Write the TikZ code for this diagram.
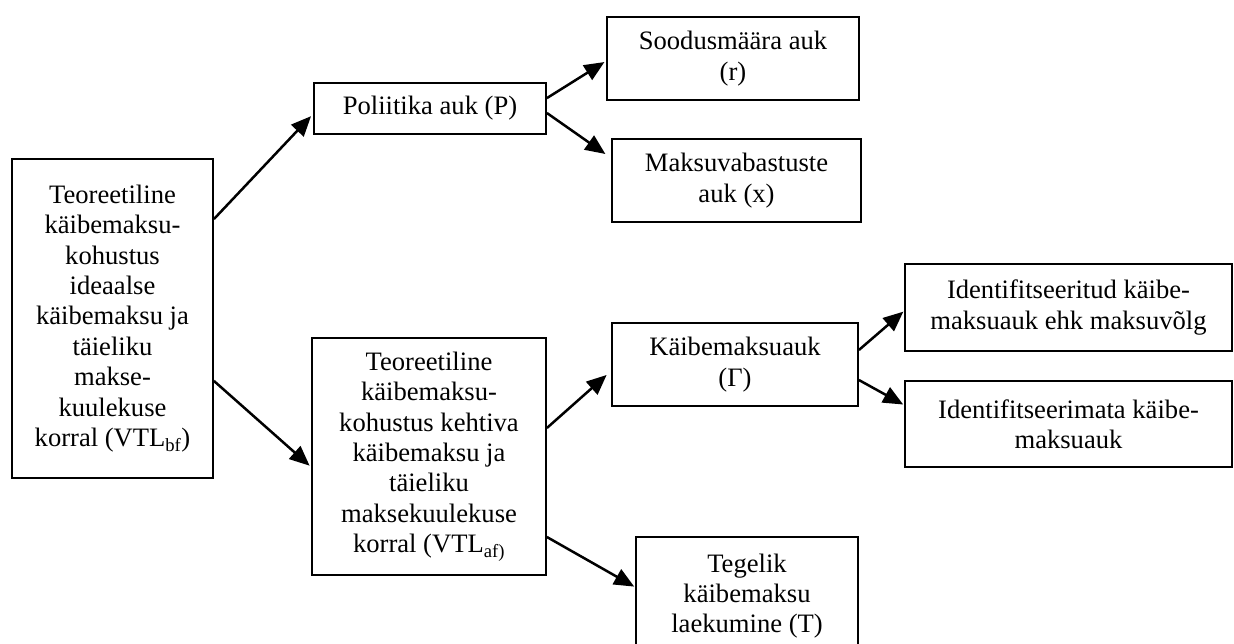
\documentclass[tikz,border=0pt]{standalone}
\usepackage{fontspec}
\setmainfont{Liberation Serif}
\usetikzlibrary{arrows.meta}
\begin{document}
\begin{tikzpicture}[x=1pt,y=-1pt,
  box/.style={draw=black, line width=1.8pt, inner sep=0pt, align=center,
    font=\fontsize{26.6}{30.4}\selectfont},
  conn/.style={line width=2.5pt, -{Triangle[length=20pt,width=17pt]}}]
\useasboundingbox[fill=white] (0,0) rectangle (1234,643);
\node[box, minimum width=201pt, minimum height=319pt] (L) at (112.5,318.5)
  {Teoreetiline\\käibemaksu-\\kohustus\\ideaalse\\käibemaksu ja\\täieliku\\makse-\\kuulekuse\\korral (VTL\textsubscript{bf})};
\node[box, minimum width=232pt, minimum height=51pt] (P) at (430,108.5)
  {Poliitika auk (P)};
\node[box, minimum width=252pt, minimum height=83pt] (S) at (733,58.5)
  {Soodusmäära auk\\(r)};
\node[box, minimum width=249pt, minimum height=83pt] (X) at (736.5,180.5)
  {Maksuvabastuste\\auk (x)};
\node[box, minimum width=234pt, minimum height=237pt] (M) at (429,456.5)
  {Teoreetiline\\käibemaksu-\\kohustus kehtiva\\käibemaksu ja\\täieliku\\maksekuulekuse\\korral (VTL\textsubscript{af)}};
\node[box, minimum width=246pt, minimum height=83pt] (K) at (735,364.5)
  {Käibemaksuauk\\(Γ)};
\node[box, minimum width=327pt, minimum height=87pt] (I1) at (1068.5,307.5)
  {Identifitseeritud käibe-\\maksuauk ehk maksuvõlg};
\node[box, minimum width=327pt, minimum height=86pt] (I2) at (1068.5,424)
  {Identifitseerimata käibe-\\maksuauk};
\node[box, minimum width=222pt, minimum height=118pt] (T) at (747,596)
  {Tegelik\\käibemaksu\\laekumine (T)};
\draw[conn, shorten >=3pt] ([yshift=-61pt]L.north east) -- ([yshift=-5.5pt]P.west);
\draw[conn, shorten >=2pt] ([yshift=98pt]L.south east) -- ([yshift=-10.5pt]M.west);
\draw[conn, shorten >=2pt] ([yshift=-16pt]P.north east) -- ([yshift=-2.5pt]S.west);
\draw[conn, shorten >=7pt] ([yshift=-4.5pt]P.east) -- ([yshift=22.5pt]X.west);
\draw[conn, shorten >=6pt] ([yshift=28.5pt]M.east) -- ([yshift=-6.5pt]K.west);
\draw[conn, shorten >=1pt] ([yshift=-80.5pt]M.east) -- ([yshift=-51pt]T.north west);
\draw[conn, shorten >=1pt] ([yshift=14.5pt]K.east) -- ([yshift=-3.5pt]I1.west);
\draw[conn, shorten >=1pt] ([yshift=-15.5pt]K.east) -- ([yshift=19pt]I2.west);
\end{tikzpicture}
\end{document}
